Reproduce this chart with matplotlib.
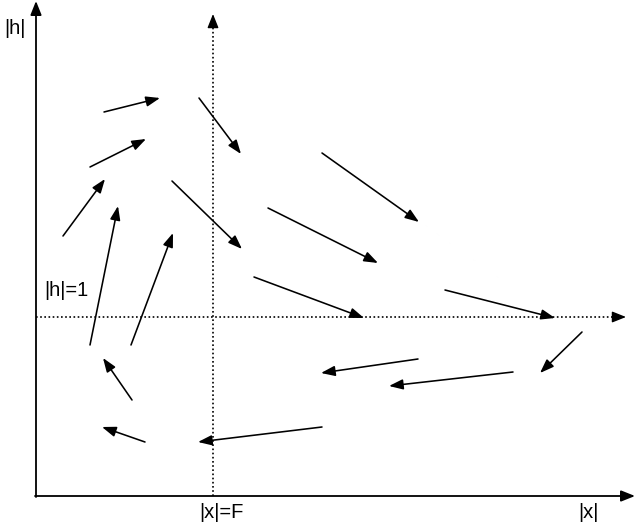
import matplotlib
matplotlib.use("Agg")
import matplotlib.pyplot as plt

# Arrow field (pixel-space coordinates): start x, start y, end x, end y
x0 = [104, 90, 63, 90, 131, 199, 172, 268, 322, 254, 445, 582, 418, 513, 322, 145, 132]
y0 = [112, 167, 236, 345, 345, 98, 181, 208, 153, 277, 290, 332, 359, 372, 427, 442, 400]
x1 = [160, 146, 105, 118, 173, 241, 242, 378, 419, 364, 555, 540, 321, 389, 198, 102, 103]
y1 = [98, 139, 179, 206, 233, 154, 249, 263, 222, 318, 318, 373, 373, 386, 442, 427, 358]

# Reference lines
F_x = 213      # |x|=F
H1_y = 317     # |h|=1
origin = (36, 496)

labels = {"h": "|h|", "h1": "|h|=1", "F": "|x|=F", "x": "|x|"}

plt.rcParams['font.family'] = ['Liberation Sans', 'DejaVu Sans']
fig = plt.figure(figsize=(6.36, 5.27), dpi=100)
ax = fig.add_axes([0, 0, 1, 1])
ax.set_xlim(0, 636)
ax.set_ylim(527, 0)
ax.axis('off')

solid_axis = dict(arrowstyle='-|>,head_length=0.6,head_width=0.24', color='black',
                  lw=1.3, mutation_scale=14, shrinkA=0, shrinkB=0)
# main axes
ax.annotate('', xy=(origin[0], 1), xytext=(origin[0], origin[1] + 1), arrowprops=solid_axis)
ax.annotate('', xy=(635, origin[1]), xytext=(origin[0] - 1, origin[1]), arrowprops=solid_axis)

# dotted guide lines
ax.plot([F_x, F_x], [origin[1], 22], color='black', lw=1.2, linestyle=(0, (1, 1.5)))
ax.annotate('', xy=(F_x, 14), xytext=(F_x, 24),
            arrowprops=dict(arrowstyle='-|>,head_length=0.6,head_width=0.24', color='black',
                            lw=1.0, mutation_scale=14, shrinkA=0, shrinkB=0))
ax.plot([origin[0], 616], [H1_y, H1_y], color='black', lw=1.2, linestyle=(0, (1, 1.5)))
ax.annotate('', xy=(626, H1_y), xytext=(614, H1_y),
            arrowprops=dict(arrowstyle='-|>,head_length=0.6,head_width=0.24', color='black',
                            lw=1.0, mutation_scale=14, shrinkA=0, shrinkB=0))

# field arrows
aprops = dict(arrowstyle='-|>,head_length=0.6,head_width=0.22', color='black',
              lw=1.15, mutation_scale=14, shrinkA=0, shrinkB=0)
for a, b, c, d in zip(x0, y0, x1, y1):
    ax.annotate('', xy=(c, d), xytext=(a, b), arrowprops=aprops)

fs = 14.5
ax.text(15, 29, labels["h"], fontsize=fs, ha='center', va='center')
ax.text(66, 290, labels["h1"], fontsize=fs, ha='center', va='center')
ax.text(221, 512, labels["F"], fontsize=fs, ha='center', va='center')
ax.text(588, 512, labels["x"], fontsize=fs, ha='center', va='center')

fig.savefig('out.png', dpi=100)
